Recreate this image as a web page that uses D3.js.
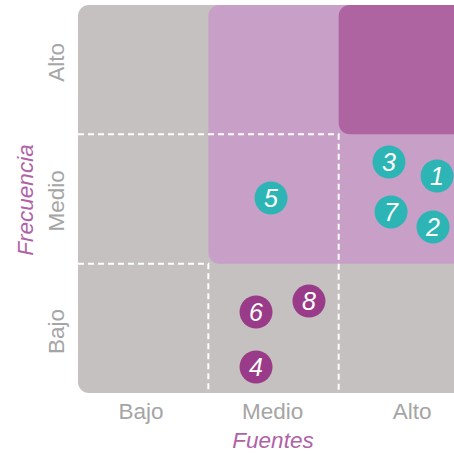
<!DOCTYPE html>
<html>
<head>
<meta charset="utf-8">
<script src="https://cdn.jsdelivr.net/npm/d3@7"></script>
<style>
  html, body { margin: 0; padding: 0; background: #fff; }
  svg { display: block; }
  text { font-family: "Liberation Sans", Arial, Helvetica, sans-serif; }
</style>
</head>
<body>
<script>
// ---- data ----
const levels = ["Bajo", "Medio", "Alto"];
const levelTickPos = [0.48, 1.49, 2.56];
const ids = [1, 2, 3, 4, 5, 6, 7, 8];
const fuentes = [2.755, 2.724, 2.386, 1.366, 1.481, 1.366, 2.402, 1.772];
const frecuencia = [1.678, 1.284, 1.786, 0.201, 1.508, 0.626, 1.400, 0.711];
const grupo = ["A", "A", "A", "B", "A", "B", "A", "B"];
const zones = [ // lower-left corner of zone extending to top-right
  { x0: 0, y0: 0, fill: "#c5c1c0" },
  { x0: 1, y0: 1, fill: "#c89fc7" },
  { x0: 2, y0: 2, fill: "#ad64a0" }
];
const dashedCorners = [2, 1];

const W = 454, H = 454;
const svg = d3.select("body").append("svg").attr("width", W).attr("height", H);

const x = d3.scaleLinear().domain([0, 3]).range([78, 469]);
const y = d3.scaleLinear().domain([0, 3]).range([393, 5]);
const color = d3.scaleOrdinal().domain(["A", "B"]).range(["#2db5b6", "#9a3b8a"]);

// zones
svg.append("g").selectAll("rect").data(zones).join("rect")
  .attr("x", d => x(d.x0))
  .attr("y", y(3))
  .attr("width", d => x(3) - x(d.x0) + 20)
  .attr("height", d => y(d.y0) - y(3))
  .attr("rx", 11).attr("ry", 11)
  .attr("fill", d => d.fill);

// dashed boundaries
svg.append("g").selectAll("path").data(dashedCorners).join("path")
  .attr("d", d => `M${x(0)},${y(d)}H${x(d)}V${y(0)}`)
  .attr("fill", "none")
  .attr("stroke", "#fff")
  .attr("stroke-width", 2)
  .attr("stroke-dasharray", "6,4");

// axes
const xAxis = d3.axisBottom(x).tickValues(levelTickPos)
  .tickFormat((d, i) => levels[i]).tickSize(0).tickPadding(0);
const gx = svg.append("g").attr("transform", `translate(0,${y(0)})`).call(xAxis);
gx.select(".domain").remove();
gx.selectAll("text").attr("dy", null).attr("y", 26)
  .attr("font-size", 22.5).attr("fill", "#a5a5a5")
  .attr("font-family", "Liberation Sans, Arial, sans-serif");

const yAxis = d3.axisLeft(y).tickValues(levelTickPos)
  .tickFormat((d, i) => levels[i]).tickSize(0).tickPadding(0);
const gy = svg.append("g").attr("transform", `translate(${x(0)},0)`).call(yAxis);
gy.select(".domain").remove();
gy.selectAll("text")
  .attr("x", null).attr("dy", null)
  .attr("transform", "translate(-14,0) rotate(-90)")
  .attr("text-anchor", "middle")
  .attr("font-size", 22.5).attr("fill", "#a5a5a5")
  .attr("font-family", "Liberation Sans, Arial, sans-serif");

// axis titles
svg.append("text")
  .attr("x", 273).attr("y", 448)
  .attr("text-anchor", "middle")
  .attr("font-size", 22.5).attr("font-style", "italic")
  .attr("fill", "#b062a6")
  .text("Fuentes");
svg.append("text")
  .attr("transform", "translate(33,200) rotate(-90)")
  .attr("text-anchor", "middle")
  .attr("font-size", 22.5).attr("font-style", "italic")
  .attr("fill", "#b062a6")
  .text("Frecuencia");

// points
const pts = ids.map((id, i) => ({ id, fx: fuentes[i], fy: frecuencia[i], g: grupo[i] }));
const gp = svg.append("g").selectAll("g").data(pts).join("g")
  .attr("transform", d => `translate(${x(d.fx)},${y(d.fy)})`);
gp.append("circle").attr("r", 16.5).attr("fill", d => color(d.g));
gp.append("text")
  .attr("text-anchor", "middle")
  .attr("dy", "0.36em")
  .attr("font-size", 25).attr("font-style", "italic")
  .attr("fill", "#fff")
  .text(d => d.id);
</script>
</body>
</html>
